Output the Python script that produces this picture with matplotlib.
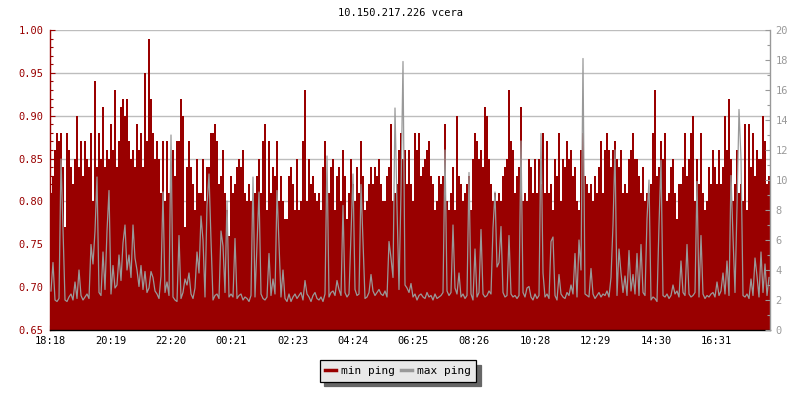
import numpy as np
import matplotlib
matplotlib.use("Agg")
import matplotlib.pyplot as plt
from matplotlib.lines import Line2D
from matplotlib.ticker import MultipleLocator, FixedLocator

# ── chart text ──
TITLE = "10.150.217.226 vcera"
START_TIME = "18:18"
STEP_MIN = 4  # one sample every 4 minutes, 24 h in total
TICK_LABELS = ["18:18", "20:19", "22:20", "00:21", "02:23", "04:24",
               "06:25", "08:26", "10:28", "12:29", "14:30", "16:31"]
SERIES_LABELS = ["min ping", "max ping"]

# ── values ──
# min ping in hundredths of ms (left axis)
MIN_PING_HUNDREDTHS = [
    81, 83, 86, 88, 87, 88, 84, 77, 88, 86, 84, 82, 85, 90, 84, 87, 83, 87, 85, 84,
    88, 80, 94, 84, 88, 85, 91, 84, 86, 85, 89, 86, 93, 84, 87, 91, 92, 90, 92, 87,
    85, 86, 84, 89, 86, 88, 84, 95, 87, 99, 92, 88, 85, 87, 85, 81, 87, 80, 87, 81,
    83, 86, 83, 87, 87, 92, 90, 77, 84, 87, 84, 82, 79, 85, 81, 81, 85, 80, 84, 84,
    88, 88, 89, 87, 82, 83, 86, 81, 79, 76, 83, 81, 82, 84, 85, 84, 86, 81, 80, 82,
    80, 80, 81, 83, 85, 81, 87, 89, 79, 87, 81, 84, 83, 87, 80, 83, 80, 78, 78, 83,
    84, 82, 79, 85, 79, 80, 87, 93, 80, 85, 82, 83, 81, 80, 81, 79, 84, 87, 82, 81,
    84, 85, 79, 83, 84, 80, 86, 83, 78, 81, 85, 82, 80, 84, 81, 87, 83, 79, 80, 82,
    84, 82, 84, 83, 85, 82, 80, 80, 83, 84, 89, 80, 81, 82, 86, 88, 85, 86, 82, 86,
    82, 80, 88, 86, 88, 83, 84, 85, 86, 87, 83, 82, 79, 80, 83, 82, 83, 89, 80, 79,
    81, 84, 79, 90, 83, 82, 80, 81, 82, 83, 79, 85, 88, 87, 85, 86, 84, 91, 90, 85,
    82, 80, 81, 80, 81, 80, 83, 84, 85, 93, 87, 86, 81, 83, 84, 91, 80, 81, 80, 85,
    84, 81, 85, 81, 85, 82, 88, 81, 87, 81, 82, 79, 85, 83, 88, 80, 85, 84, 87, 85,
    86, 83, 84, 80, 79, 86, 88, 83, 82, 81, 82, 80, 83, 81, 84, 87, 81, 86, 88, 86,
    84, 86, 87, 85, 84, 86, 81, 82, 81, 85, 86, 88, 85, 85, 83, 81, 84, 80, 81, 81,
    82, 88, 93, 83, 84, 87, 85, 88, 80, 81, 84, 85, 81, 78, 82, 82, 84, 88, 83, 85,
    88, 90, 80, 85, 82, 88, 81, 79, 80, 84, 82, 86, 84, 82, 86, 82, 84, 90, 86, 92,
    85, 80, 82, 86, 81, 82, 80, 89, 79, 89, 84, 88, 83, 86, 85, 85, 90, 87, 82, 83,
]
# max ping in tenths of ms (right axis)
MAX_PING_TENTHS = [
    26, 45, 20, 19, 21, 114, 68, 20, 19, 22, 24, 20, 32, 21, 40, 23, 20, 22, 24, 21,
    57, 44, 66, 102, 25, 23, 52, 27, 66, 93, 24, 43, 28, 30, 50, 33, 58, 70, 40, 50,
    35, 70, 48, 40, 29, 43, 27, 39, 25, 28, 39, 35, 26, 24, 21, 36, 92, 25, 32, 23,
    130, 22, 20, 19, 63, 21, 25, 34, 30, 38, 24, 21, 28, 52, 38, 76, 60, 22, 83, 104,
    60, 20, 23, 24, 21, 66, 56, 25, 86, 22, 24, 22, 61, 21, 23, 24, 20, 22, 21, 19,
    23, 102, 22, 58, 92, 24, 21, 20, 22, 51, 23, 34, 24, 93, 57, 22, 40, 21, 19, 24,
    19, 22, 24, 21, 23, 25, 20, 33, 24, 22, 19, 23, 25, 21, 20, 22, 19, 24, 116, 22,
    25, 26, 23, 33, 27, 23, 83, 25, 22, 24, 64, 104, 27, 23, 24, 97, 58, 21, 22, 25,
    37, 26, 23, 25, 27, 24, 23, 26, 22, 59, 48, 35, 148, 82, 27, 92, 179, 30, 28, 25,
    31, 22, 24, 20, 23, 24, 22, 21, 25, 22, 23, 20, 24, 21, 22, 23, 25, 120, 26, 23,
    25, 70, 28, 24, 38, 22, 24, 21, 23, 105, 24, 20, 54, 22, 25, 67, 24, 22, 23, 26,
    24, 68, 92, 42, 45, 69, 25, 22, 23, 63, 24, 22, 23, 21, 23, 126, 25, 22, 28, 29,
    22, 20, 24, 21, 23, 131, 38, 22, 24, 21, 59, 62, 23, 20, 37, 24, 22, 21, 25, 23,
    30, 24, 51, 22, 60, 40, 181, 24, 23, 22, 41, 24, 21, 23, 25, 22, 24, 23, 26, 22,
    35, 70, 120, 23, 54, 38, 25, 36, 23, 53, 26, 37, 24, 51, 23, 57, 25, 23, 74, 100,
    20, 22, 21, 19, 70, 113, 23, 22, 24, 21, 23, 30, 24, 26, 22, 46, 25, 23, 57, 24,
    22, 23, 25, 99, 22, 63, 24, 21, 23, 22, 24, 25, 22, 32, 23, 26, 38, 24, 46, 23,
    103, 62, 25, 82, 147, 114, 23, 22, 24, 21, 34, 23, 48, 36, 22, 52, 25, 44, 23, 35,
]

RED = "#990000"
GRAY = "#999999"
GRID = "#bdbdbd"


def minutes_since_start(label):
    """'HH:MM' -> minutes after START_TIME, wrapping past midnight."""
    h, m = map(int, label.split(":"))
    h0, m0 = map(int, START_TIME.split(":"))
    return (h * 60 + m - (h0 * 60 + m0)) % 1440


min_ping = np.array(MIN_PING_HUNDREDTHS) / 100.0
max_ping = np.array(MAX_PING_TENTHS) / 10.0
edges = np.arange(len(min_ping) + 1) * STEP_MIN
centers = edges[:-1] + STEP_MIN / 2

plt.rcParams["font.family"] = ["DejaVu Sans Mono"]
plt.rcParams["font.size"] = 7.5

fig = plt.figure(figsize=(8, 4), dpi=100)
ax = fig.add_axes([0.0625, 0.175, 0.9, 0.75])
ax2 = ax.twinx()

# ── data ──
ax.stairs(min_ping, edges, baseline=0.65, fill=True, color=RED, lw=0)
ax2.plot(centers, max_ping, color=GRAY, lw=0.9)

# ── left axis ──
ax.set_xlim(edges[0], edges[-1])
ax.set_ylim(0.65, 1.00)
ax.yaxis.set_major_locator(MultipleLocator(0.05))
ax.yaxis.set_minor_locator(MultipleLocator(0.01))
ax.yaxis.set_major_formatter(lambda v, _: f"{v:.2f}")
ax.tick_params(axis="y", which="both", direction="in", colors=RED, pad=4.5)
ax.tick_params(axis="y", which="major", length=3.6, width=0.8)
ax.tick_params(axis="y", which="minor", length=2.2, width=0.8)
ax.grid(axis="y", which="major", color=GRID, lw=1.0)
ax.set_axisbelow(True)

# ── x axis ──
ax.xaxis.set_major_locator(FixedLocator([minutes_since_start(t) for t in TICK_LABELS]))
ax.set_xticklabels(TICK_LABELS)
ax.tick_params(axis="x", direction="in", length=3.6, width=0.8, pad=4, colors="black")

# ── right axis ──
ax2.set_xlim(edges[0], edges[-1])
ax2.set_ylim(0, 20)
ax2.yaxis.set_major_locator(MultipleLocator(2))
ax2.yaxis.set_minor_locator(MultipleLocator(1))
ax2.tick_params(axis="y", which="both", direction="in", colors=GRAY, pad=4)
ax2.tick_params(axis="y", which="major", length=3.6, width=0.8)
ax2.tick_params(axis="y", which="minor", length=2.2, width=0.8)

for s in ("top", "right"):
    ax.spines[s].set_visible(False)
for s in ("top", "left", "bottom"):
    ax2.spines[s].set_visible(False)
ax.spines["left"].set_color(RED)
ax.spines["bottom"].set_color("black")
ax2.spines["right"].set_color(GRAY)
for sp in (ax.spines["left"], ax.spines["bottom"], ax2.spines["right"]):
    sp.set_linewidth(1.0)

fig.text(0.5, 1 - 13 / 400, TITLE, ha="center", va="center", fontsize=7.5)

# ── legend below the plot ──
handles = [Line2D([], [], color=RED, lw=2.5), Line2D([], [], color=GRAY, lw=2.5)]
leg = fig.legend(handles, SERIES_LABELS, loc="center",
                 bbox_to_anchor=(398 / 800, 1 - 371 / 400), ncol=2,
                 fancybox=False, framealpha=1, facecolor="#e8e8e8", edgecolor="black",
                 shadow={"color": "#666666", "alpha": 1, "ox": 3, "oy": -3},
                 handlelength=1.0, handletextpad=0.4, columnspacing=0.6,
                 borderpad=0.5, fontsize=8)
leg.get_frame().set_linewidth(0.9)

fig.savefig("out.png", dpi=100)
